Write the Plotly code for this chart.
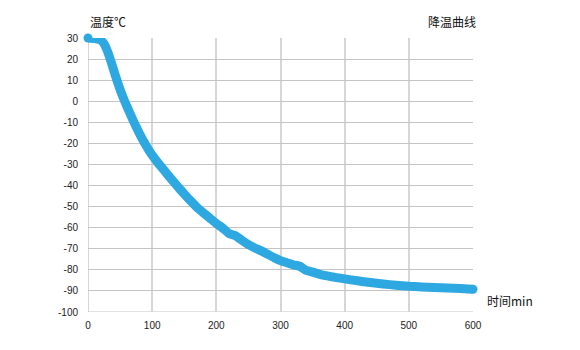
import plotly.graph_objects as go

# Cooling curve: elapsed time (min) vs temperature (°C)
time_min = [0, 5, 10, 15, 20, 25, 30, 35, 40, 45, 50, 55, 60, 65, 70, 75, 80, 85,
            90, 95, 100, 110, 120, 130, 140, 150, 160, 170, 180, 190, 200, 210,
            220, 230, 240, 250, 260, 270, 280, 290, 300, 310, 320, 330, 340, 350,
            360, 370, 380, 390, 400, 420, 440, 460, 480, 500, 520, 540, 560, 580,
            600]
temp_c = [30, 29.9, 29.7, 29.4, 28.9, 27.3, 24.0, 19.6, 14.8, 10.0, 5.6, 1.6, -2.0,
          -5.5, -8.9, -12.1, -15.2, -18.1, -20.8, -23.3, -25.6, -29.6, -33.3,
          -37.0, -40.6, -44.0, -47.3, -50.4, -53.0, -55.5, -58.0, -60.2, -62.8,
          -63.8, -66.0, -68.0, -69.6, -71.0, -72.6, -74.2, -75.6, -76.6, -77.6,
          -78.3, -80.3, -81.1, -82.0, -82.7, -83.3, -83.8, -84.3, -85.2, -86.0,
          -86.7, -87.3, -87.8, -88.1, -88.4, -88.6, -88.8, -89.2]

x_ticks = [0, 100, 200, 300, 400, 500, 600]
y_ticks = [30, 20, 10, 0, -10, -20, -30, -40, -50, -60, -70, -80, -90, -100]

LINE_COLOR = "#2ea8e0"
CJK_FONT = "Noto Sans CJK SC"
TICK_FONT = "Liberation Sans"

fig = go.Figure()
fig.add_trace(go.Scatter(
    x=time_min, y=temp_c, mode="lines",
    line=dict(color=LINE_COLOR, width=9, shape="spline", smoothing=0.5),
    cliponaxis=False, hoverinfo="skip", showlegend=False,
))
# rounded ends of the thick stroke
fig.add_trace(go.Scatter(
    x=[time_min[0], time_min[-1]], y=[temp_c[0], temp_c[-1]], mode="markers",
    marker=dict(color=LINE_COLOR, size=9, line=dict(width=0)),
    cliponaxis=False, hoverinfo="skip", showlegend=False,
))

fig.update_layout(
    width=580, height=350,
    margin=dict(l=88, r=107, t=38, b=38),
    paper_bgcolor="white", plot_bgcolor="white",
    showlegend=False,
    xaxis=dict(
        range=[0, 600], tickvals=x_ticks, ticktext=[str(v) for v in x_ticks],
        showgrid=True, gridcolor="#d6d6d6", gridwidth=2,
        zeroline=False, showline=False, ticks="", ticklabelstandoff=6,
        tickfont=dict(family=TICK_FONT, size=10, color="#222"),
    ),
    yaxis=dict(
        range=[-100, 30], tickvals=y_ticks, ticktext=[str(v) for v in y_ticks],
        showgrid=True, gridcolor="#c4c4c4", gridwidth=1,
        zeroline=False, showline=False, ticks="", ticklabelstandoff=9,
        tickfont=dict(family=TICK_FONT, size=10, color="#222"),
    ),
    annotations=[
        dict(text="温度℃", xref="paper", yref="paper", x=0, y=1,
             xanchor="left", yanchor="bottom", yshift=6, showarrow=False,
             font=dict(family=CJK_FONT, size=12, color="#111")),
        dict(text="降温曲线", xref="paper", yref="paper", x=1, y=1,
             xanchor="right", yanchor="bottom", yshift=6, xshift=5,
             showarrow=False,
             font=dict(family=CJK_FONT, size=12, color="#111")),
        dict(text="时间min", xref="paper", yref="paper", x=1, y=0,
             xanchor="left", yanchor="middle", xshift=12, yshift=12,
             showarrow=False,
             font=dict(family=CJK_FONT, size=12, color="#111")),
    ],
)

# x=0 and y=-100 boundary lines drawn like the gridlines
fig.add_shape(type="line", xref="x", yref="paper", x0=0, x1=0, y0=0, y1=1,
              line=dict(color="#d6d6d6", width=2), layer="below")
fig.add_shape(type="line", xref="paper", yref="y", x0=0, x1=1, y0=-100, y1=-100,
              line=dict(color="#c4c4c4", width=1), layer="below")

fig.write_html("out.html")
